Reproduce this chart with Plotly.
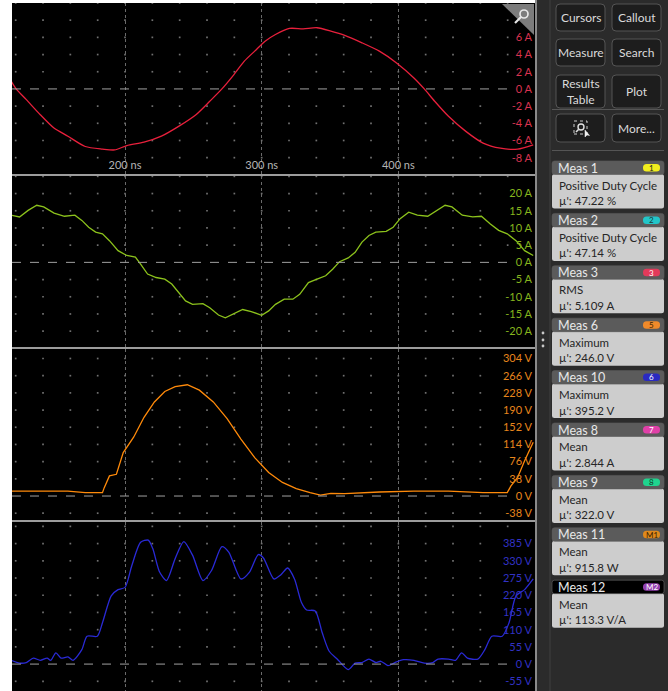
import plotly.graph_objects as go

W, H = 668, 691

# ---- time base (ns) ----
X_MIN, X_MAX = 117.3, 500.0
time_ticks = [200, 300, 400]
time_labels = ["200 ns", "300 ns", "400 ns"]

# ---- channel 1: current (A), red ----
ch1_t = [116.7, 120.3, 127.8, 138.0, 148.0, 158.2, 170.9, 183.5, 192.4, 201.3, 213.9,
         226.6, 239.2, 251.9, 262.0, 270.9, 279.7, 287.3, 294.9, 302.5, 310.1, 320.3,
         330.4, 340.5, 350.6, 360.8, 373.4, 386.1, 398.7, 411.4, 419.0, 426.6, 436.7,
         449.4, 462.0, 474.7, 487.3, 498.7]
ch1_v = [0.9, 0.0, -1.25, -3.0, -4.55, -5.5, -6.7, -7.0, -7.1, -6.6, -6.2,
         -5.5, -4.36, -3.0, -1.44, 0.0, 1.67, 3.23, 4.4, 5.56, 6.34, 7.04,
         7.0, 7.12, 6.73, 6.23, 5.37, 4.4, 3.03, 1.28, 0.0, -1.44, -3.19,
         -4.94, -6.3, -6.9, -7.0, -6.5]
ch1_ticks = [-8, -6, -4, -2, 0, 2, 4, 6]

# ---- channel 2: current (A), green ----
ch2_t = [116.7, 122.8, 129.1, 135.4, 140.5, 148.1, 155.7, 163.3, 168.4, 173.4, 178.5,
         183.5, 188.6, 194.9, 201.3, 207.6, 211.4, 216.5, 222.8, 229.1, 234.2, 239.2,
         244.3, 249.4, 257.0, 262.0, 268.4, 273.4, 279.7, 286.1, 292.4, 300.0, 305.1,
         310.1, 316.5, 322.8, 327.8, 334.2, 340.5, 346.8, 351.9, 357.0, 363.3, 368.4,
         373.4, 378.5, 383.5, 391.1, 396.2, 401.3, 407.6, 413.9, 421.5, 427.8, 434.2,
         439.2, 446.8, 454.4, 460.8, 467.1, 473.4, 479.7, 486.1, 492.4, 498.7]
ch2_v = [13.7, 13.2, 15.1, 16.6, 16.1, 14.3, 13.4, 13.7, 12.2, 10.2, 8.8,
         8.3, 6.3, 3.4, 2.0, 1.5, -0.5, -3.4, -4.4, -4.9, -6.3, -8.8,
         -11.2, -12.2, -12.0, -13.2, -15.3, -16.1, -14.9, -13.7, -14.3, -15.4, -14.1,
         -12.2, -10.7, -10.7, -9.3, -5.9, -4.9, -3.9, -2.0, 0.2, 1.3, 2.9,
         5.9, 7.8, 8.8, 9.0, 10.2, 12.7, 14.6, 13.7, 13.4, 15.1, 16.6,
         16.1, 13.7, 13.2, 13.4, 11.2, 9.3, 8.3, 6.3, 3.4, 2.0]
ch2_ticks = [-20, -15, -10, -5, 0, 5, 10, 15, 20]

# ---- channel 3: voltage (V), orange ----
ch3_t = [116.7, 138.0, 158.2, 170.9, 183.5, 184.8, 188.6, 193.7, 198.7, 206.3, 213.9,
         221.5, 229.1, 236.7, 245.6, 254.4, 264.6, 274.7, 284.8, 294.9, 305.1, 315.2,
         325.3, 335.4, 343.0, 350.6, 360.8, 386.1, 411.4, 436.7, 462.0, 479.7, 482.3,
         487.3, 492.4, 498.7]
ch3_v = [11, 11, 11, 7.4, 7.4, 18.5, 44.5, 48, 96, 130, 174,
         208, 231, 242, 246, 234, 208, 171, 126, 85, 52, 30,
         16.3, 7.4, 2.2, 5.9, 5.2, 8.9, 11, 11, 7.4, 7.4, 22,
         41, 78, 119]
ch3_ticks = [-38, 0, 38, 76, 114, 152, 190, 228, 266, 304]

# ---- channel 4: voltage (V), blue ----
ch4_t = [116.7, 122.8, 127.8, 132.9, 138.0, 143.0, 145.6, 149.4, 153.2, 158.2, 162.0,
         168.4, 172.2, 179.7, 183.5, 189.9, 194.9, 200.0, 205.0, 211.4, 217.0, 220.3,
         225.3, 230.4, 236.7, 243.0, 249.4, 257.0, 263.3, 270.9, 275.9, 284.8, 291.1,
         297.5, 301.3, 308.9, 313.9, 319.0, 324.0, 329.1, 332.9, 339.2, 344.3, 349.4,
         355.7, 363.3, 368.4, 373.4, 378.5, 383.5, 387.3, 392.4, 397.5, 403.8, 411.4,
         419.0, 425.3, 429.1, 436.7, 441.8, 446.3, 450.6, 458.2, 463.3, 468.4, 476.0,
         481.0, 486.1, 492.4, 498.7]
ch4_v = [12, 3, 5, 19, 12, 19, 12, 36, 19, 23, 12,
         46, 89, 89, 132, 218, 238, 245, 315, 389, 396, 369,
         294, 267, 337, 391, 348, 267, 299, 375, 358, 272, 294,
         350, 339, 272, 285, 307, 272, 197, 173, 170, 100, 41,
         14, -18, 3, 5, 16, 5, 9, -5, 5, 14, 12,
         3, 5, 16, 16, 12, 36, 19, 16, 46, 89, 89,
         132, 218, 238, 272]
ch4_ticks = [-55, 0, 55, 110, 165, 220, 275, 330, 385]

# ---- measurement readouts ----
meas_names = ["Meas 1", "Meas 2", "Meas 3", "Meas 6", "Meas 10", "Meas 8", "Meas 9", "Meas 11", "Meas 12"]
meas_types = ["Positive Duty Cycle", "Positive Duty Cycle", "RMS", "Maximum", "Maximum",
              "Mean", "Mean", "Mean", "Mean"]
meas_values = ["47.22 %", "47.14 %", "5.109 A", "246.0 V", "395.2 V",
               "2.844 A", "322.0 V", "915.8 W", "113.3 V/A"]
meas_badges = ["1", "2", "3", "5", "6", "7", "8", "M1", "M2"]
badge_fill = ["#f2ee1e", "#22c6c9", "#e23a5a", "#f08a2a", "#2a2ac2",
              "#e040a8", "#1fd48e", "#e0891c", "#9440b0"]
badge_text = ["#222", "#1a3a3a", "#fff", "#3a2000", "#fff", "#fff", "#0d3a28", "#3a2000", "#fff"]

buttons = [("Cursors", 556, 4, 605, 31), ("Callout", 612, 4, 661, 31),
           ("Measure", 556, 39, 605, 66), ("Search", 612, 39, 661, 66),
           ("Results<br>Table", 556, 75, 605, 108), ("Plot", 612, 75, 661, 108),
           ("", 556, 114, 605, 142), ("More...", 612, 114, 661, 142)]

FONT = "Lato"
C_RED, C_RED_T = "#e8203c", "#d9334f"
C_GRN, C_GRN_T = "#8cc21c", "#86b51e"
C_ORG, C_ORG_T = "#ff8a0a", "#e8861c"
C_BLU, C_BLU_T = "#2a2ad6", "#3232c4"

PX_PER_NS = (535 - 12) / (X_MAX - X_MIN)


def X(p):
    return p / W


def Y(p):
    return 1 - p / H


# panel pixel extents (top, bottom) and value ranges
panels = [
    dict(top=3, bot=174, rng=[-9.9, 10.0], step=2, t=ch1_t, v=ch1_v, ticks=ch1_ticks, unit="A",
         c=C_RED, ct=C_RED_T, shape="spline"),
    dict(top=176, bot=347, rng=[-24.6, 25.1], step=5, t=ch2_t, v=ch2_v, ticks=ch2_ticks, unit="A",
         c=C_GRN, ct=C_GRN_T, shape="linear"),
    dict(top=349, bot=520, rng=[-53, 325], step=38, t=ch3_t, v=ch3_v, ticks=ch3_ticks, unit="V",
         c=C_ORG, ct=C_ORG_T, shape="linear"),
    dict(top=522, bot=691, rng=[-86, 454], step=55, t=ch4_t, v=ch4_v, ticks=ch4_ticks, unit="V",
         c=C_BLU, ct=C_BLU_T, shape="spline"),
]

fig = go.Figure()
layout = dict(width=W, height=H, margin=dict(l=0, r=0, t=0, b=0),
              paper_bgcolor="#ffffff", plot_bgcolor="#000000", showlegend=False,
              font=dict(family=FONT))
shapes = []
annotations = []

# dark side panel background and plot frame
shapes.append(dict(type="rect", xref="paper", yref="paper", x0=X(536), x1=1, y0=0, y1=1,
                   fillcolor="#2b2b2b", line=dict(width=0), layer="below"))
shapes.append(dict(type="rect", xref="paper", yref="paper", x0=X(12), x1=X(536), y0=0, y1=Y(3),
                   fillcolor="#000000", line=dict(width=0), layer="below"))

grid_cols = list(range(120, 500, 20))

for i, p in enumerate(panels):
    n = "" if i == 0 else str(i + 1)
    xa, ya = "x" + n, "y" + n
    tick_text = [f"{t} {p['unit']}" for t in p["ticks"]]
    layout["xaxis" + n] = dict(
        domain=[X(12), X(535)], range=[X_MIN, X_MAX], anchor=ya,
        showgrid=True, gridcolor="#6a6a6a", griddash="dot", gridwidth=1,
        tickvals=time_ticks, ticktext=time_labels, ticks="",
        showticklabels=(i == 0), ticklabelposition="inside", side="bottom",
        tickfont=dict(size=11, color="#b4b4b4", family=FONT),
        zeroline=False, showline=False, fixedrange=True)
    layout["yaxis" + n] = dict(
        domain=[Y(p["bot"]), Y(p["top"])], range=p["rng"], anchor=xa, side="right",
        tickvals=p["ticks"], ticktext=tick_text,
        ticklabelposition="inside", ticks="", showgrid=False, zeroline=False,
        showline=False, tickfont=dict(size=11, color=p["ct"], family=FONT), fixedrange=True)

    # lattice of grid dots; dots sitting under a scale label are covered by it
    label_start = {v: 531 - 6.2 * len(s) for v, s in zip(p["ticks"], tick_text)}
    lo = int(p["rng"][0] // p["step"]) + 1
    hi = int(p["rng"][1] // p["step"])
    rows = [k * p["step"] for k in range(lo, hi + 1) if k != 0]
    gx, gy = [], []
    for r in rows:
        for c in grid_cols:
            cx = 12 + (c - X_MIN) * PX_PER_NS
            if r in label_start and cx > label_start[r] - 2:
                continue
            gx.append(c)
            gy.append(r)
    fig.add_trace(go.Scatter(x=gx, y=gy, xaxis=xa, yaxis=ya, mode="markers",
                             marker=dict(size=1.7, color="#707070", symbol="square"),
                             hoverinfo="skip"))
    # dashed ground reference
    shapes.append(dict(type="line", xref=xa, yref=ya, x0=X_MIN, x1=486, y0=0, y1=0,
                       line=dict(color="#a0a0a0", width=1, dash="dash")))
    # waveform
    line = dict(color=p["c"], width=1.3, shape=p["shape"])
    if p["shape"] == "spline":
        line["smoothing"] = 0.7
    fig.add_trace(go.Scatter(x=p["t"], y=p["v"], xaxis=xa, yaxis=ya, mode="lines",
                             line=line, hoverinfo="skip"))

# panel separators and right border
for yy in [175, 348, 521]:
    shapes.append(dict(type="line", xref="paper", yref="paper", x0=X(12), x1=X(536),
                       y0=Y(yy), y1=Y(yy), line=dict(color="#9c9c9c", width=2)))
shapes.append(dict(type="line", xref="paper", yref="paper", x0=X(536), x1=X(536),
                   y0=0, y1=1, line=dict(color="#8a8a8a", width=2)))
shapes.append(dict(type="line", xref="paper", yref="paper", x0=X(550), x1=X(550),
                   y0=0, y1=1, line=dict(color="#404040", width=1)))

# zoom handle in the top-right corner of the first panel
shapes.append(dict(type="path", xref="paper", yref="paper",
                   path=f"M {X(502)},{Y(4)} L {X(534)},{Y(4)} L {X(534)},{Y(35)} Z",
                   fillcolor="#7c7c7c", line=dict(width=0)))
shapes.append(dict(type="circle", xref="paper", yref="paper",
                   x0=X(520), x1=X(528), y0=Y(18), y1=Y(10),
                   line=dict(color="#e6e6e6", width=1.7)))
shapes.append(dict(type="line", xref="paper", yref="paper",
                   x0=X(521), x1=X(515), y0=Y(17), y1=Y(23),
                   line=dict(color="#e6e6e6", width=2.2)))


def rrect(x0, y0, x1, y1, r):
    return (f"M {X(x0 + r)},{Y(y0)} L {X(x1 - r)},{Y(y0)} Q {X(x1)},{Y(y0)} {X(x1)},{Y(y0 + r)} "
            f"L {X(x1)},{Y(y1 - r)} Q {X(x1)},{Y(y1)} {X(x1 - r)},{Y(y1)} "
            f"L {X(x0 + r)},{Y(y1)} Q {X(x0)},{Y(y1)} {X(x0)},{Y(y1 - r)} "
            f"L {X(x0)},{Y(y0 + r)} Q {X(x0)},{Y(y0)} {X(x0 + r)},{Y(y0)} Z")


# menu buttons
for label, x0, y0, x1, y1 in buttons:
    shapes.append(dict(type="path", xref="paper", yref="paper", path=rrect(x0, y0, x1, y1, 4),
                       fillcolor="#1d1d1d", line=dict(color="#555555", width=1)))
    if label:
        annotations.append(dict(xref="paper", yref="paper", x=X((x0 + x1) / 2), y=Y((y0 + y1) / 2),
                                text=label, showarrow=False, xanchor="center", yanchor="middle",
                                font=dict(size=12, color="#dadada", family=FONT)))
for yy in [109.5, 150.5]:
    shapes.append(dict(type="line", xref="paper", yref="paper", x0=X(552), x1=X(664),
                       y0=Y(yy), y1=Y(yy), line=dict(color="#555555", width=1)))

# region-zoom icon
shapes.append(dict(type="rect", xref="paper", yref="paper", x0=X(574), x1=X(587), y0=Y(134), y1=Y(121),
                   line=dict(color="#cfcfcf", width=1, dash="dot")))
shapes.append(dict(type="circle", xref="paper", yref="paper", x0=X(578), x1=X(584), y0=Y(130), y1=Y(124),
                   line=dict(color="#e0e0e0", width=1.4)))
shapes.append(dict(type="line", xref="paper", yref="paper", x0=X(578.5), x1=X(576), y0=Y(129.5), y1=Y(132),
                   line=dict(color="#e0e0e0", width=1.6)))
shapes.append(dict(type="path", xref="paper", yref="paper",
                   path=f"M {X(585)},{Y(130)} L {X(585)},{Y(137)} L {X(587)},{Y(135)} L {X(589.5)},{Y(135.5)} Z",
                   fillcolor="#f0f0f0", line=dict(color="#f0f0f0", width=0.5)))

# drag handle dots
for yy in [333, 340, 346]:
    shapes.append(dict(type="circle", xref="paper", yref="paper", x0=X(541.6), x1=X(544.4),
                       y0=Y(yy + 1.4), y1=Y(yy - 1.4), fillcolor="#c8c8c8", line=dict(width=0)))

# measurement cards
card_top0, card_pitch = 161.0, 52.4
for k in range(len(meas_names)):
    t0 = card_top0 + k * card_pitch
    hdr = "#000000" if k == len(meas_names) - 1 else "#5b5b5b"
    shapes.append(dict(type="path", xref="paper", yref="paper", path=rrect(552, t0 + 13, 664, t0 + 47.5, 2.5),
                       fillcolor="#cdcdcd", line=dict(width=0)))
    shapes.append(dict(type="path", xref="paper", yref="paper", path=rrect(552, t0, 664, t0 + 13.5, 2.5),
                       fillcolor=hdr, line=dict(color="#6a6a6a" if hdr == "#000000" else hdr, width=0.6)))
    annotations.append(dict(xref="paper", yref="paper", x=X(556), y=Y(t0 + 7), text=meas_names[k],
                            showarrow=False, xanchor="left", yanchor="middle",
                            font=dict(size=12.5, color="#e8e8e8", family=FONT)))
    shapes.append(dict(type="path", xref="paper", yref="paper", path=rrect(643, t0 + 3, 660, t0 + 10.5, 3.5),
                       fillcolor=badge_fill[k], line=dict(width=0)))
    annotations.append(dict(xref="paper", yref="paper", x=X(651.5), y=Y(t0 + 6.8), text=meas_badges[k],
                            showarrow=False, xanchor="center", yanchor="middle",
                            font=dict(size=8, color=badge_text[k], family=FONT)))
    annotations.append(dict(xref="paper", yref="paper", x=X(557), y=Y(t0 + 24), text=meas_types[k],
                            showarrow=False, xanchor="left", yanchor="middle",
                            font=dict(size=11.5, color="#262626", family=FONT)))
    annotations.append(dict(xref="paper", yref="paper", x=X(557), y=Y(t0 + 39.5), text="µ': " + meas_values[k],
                            showarrow=False, xanchor="left", yanchor="middle",
                            font=dict(size=11.5, color="#262626", family=FONT)))

layout["shapes"] = shapes
layout["annotations"] = annotations
fig.update_layout(**layout)
fig.write_html("out.html", config={"displayModeBar": False, "staticPlot": True})
